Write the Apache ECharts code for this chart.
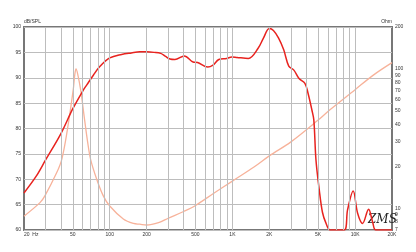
<!DOCTYPE html>
<html><head><meta charset="utf-8">
<script src="https://cdn.jsdelivr.net/npm/echarts@6/dist/echarts.min.js"></script>
<style>html,body{margin:0;padding:0;background:#fff}#c{width:416px;height:252px}</style>
</head><body><div id="c"></div>
<script>
// SPL curve (Hz, dB)
const splFreq = [20,25,30,40,50,61,65,73.5,83,100,125,150,176,200,230,260,285,310,340,405,478,520,630,695,775,895,990,1090,1350,1620,1790,2000,2160,2380,2620,2880,3170,3480,3900,4140,4450,4610,4800,5100,5420,5780,6270,8150,8690,9650,10490,11510,12890,13900,14780,20000];
const splValues = [67.3,70.5,73.8,79,83.9,87.6,88.6,90.5,92.2,93.9,94.6,94.9,95.1,95.1,95.0,94.8,94.2,93.7,93.6,94.3,93.1,93.0,92.1,92.5,93.6,93.8,94.1,94.0,93.8,95.8,97.8,99.7,99.3,97.8,95.5,92.3,91.5,89.9,88.9,86.9,83.6,81.7,73.8,68,63.5,61.4,60,60,64,67.7,63.3,61.3,64.1,61.6,60,60];
// Impedance curve (Hz, Ohm)
const impFreq = [20,27,29.6,36.9,40.6,45,50.4,51.8,53.1,54.8,57.9,62,66,69.9,78.3,88.6,100,129,156,176,200,250,300,400,500,700,1000,1500,2000,3000,5000,6240,10000,14000,20000];
const impValues = [8.8,11.0,12.3,18.0,22.4,36,71,90,100,92,71,45,30,22.4,16.2,12.3,10.4,8.4,7.8,7.7,7.6,7.9,8.5,9.5,10.5,12.8,15.7,19.8,23.8,30,43,51,71,90,111];
// Axis ticks
const freqTicks = [20,50,100,200,500,1000,2000,5000,10000,20000];
const freqLabels = ['20  Hz','50','100','200','500','1K','2K','5K','10K','20K'];
const gridFreqs = [30,40,50,60,70,80,90,100,200,300,400,500,600,700,800,900,1000,2000,3000,4000,5000,6000,7000,8000,9000,10000];
const ohmTicks = [200,100,90,80,70,60,50,40,30,20,10,9,8,7];

const FONT = '"Liberation Sans", Arial, sans-serif';
const zip = (a, b) => a.map((v, i) => [v, b[i]]);
const CLEAR = 'rgba(255,255,255,0)';

const vLines = gridFreqs.map(f => ({xAxis: f}));
const xLabelLines = freqTicks.map((f, i) => ({
  xAxis: f,
  lineStyle: {color: CLEAR, width: 0},
  label: {show: true, position: 'start', formatter: freqLabels[i], distance: 2,
    fontSize: 5, color: '#333', fontFamily: FONT, align: i === 0 ? 'left' : 'center'}
}));
const ohmLabelLines = ohmTicks.map(v => ({
  yAxis: v,
  lineStyle: {color: CLEAR, width: 0},
  label: {show: true, position: 'end', formatter: String(v), distance: 3,
    fontSize: 5, color: '#333', fontFamily: FONT, align: 'left'}
}));

const chart = echarts.init(document.getElementById('c'), null, {renderer: 'canvas'});
chart.setOption({
  animation: false,
  backgroundColor: '#fff',
  grid: {left: 24, top: 27, right: 24, bottom: 22, show: true, borderColor: '#777', borderWidth: 2, containLabel: false},
  xAxis: {type: 'log', logBase: 10, min: 20, max: 20000,
    axisLine: {show: false}, axisTick: {show: false}, axisLabel: {show: false}, splitLine: {show: false}},
  yAxis: [
    {type: 'value', min: 60, max: 100, interval: 5, name: 'dB/SPL', nameLocation: 'end', nameGap: 3,
      nameTextStyle: {fontSize: 5, color: '#333', align: 'left', fontFamily: FONT},
      axisLine: {show: false}, axisTick: {show: false},
      axisLabel: {fontSize: 5, color: '#333', margin: 3, fontFamily: FONT},
      splitLine: {lineStyle: {color: '#bdbdbd', width: 1}}},
    {type: 'log', logBase: 10, min: 7, max: 200, position: 'right', name: 'Ohm', nameLocation: 'end', nameGap: 3,
      nameTextStyle: {fontSize: 5, color: '#333', align: 'right', fontFamily: FONT},
      axisLine: {show: false}, axisTick: {show: false}, axisLabel: {show: false}, splitLine: {show: false}}
  ],
  series: [
    {type: 'line', name: 'grid', data: [], yAxisIndex: 0, silent: true,
      markLine: {silent: true, symbol: ['none','none'], label: {show: false},
        lineStyle: {color: '#bdbdbd', width: 1, type: 'solid'}, data: vLines.concat(xLabelLines)}},
    {type: 'line', name: 'Impedance', yAxisIndex: 1, data: zip(impFreq, impValues), smooth: 0.35,
      showSymbol: false, lineStyle: {color: '#f7b29a', width: 1.3}, z: 3,
      markLine: {silent: true, symbol: ['none','none'], data: ohmLabelLines}},
    {type: 'line', name: 'SPL', yAxisIndex: 0, data: zip(splFreq, splValues), smooth: 0.35,
      showSymbol: false, lineStyle: {color: '#e8231f', width: 1.5}, z: 4}
  ],
  graphic: [
    {type: 'text', left: 368, top: 214, style: {text: 'ZMS', font: 'italic 12px "DejaVu Serif", serif', fill: '#222'}}
  ]
});
</script></body></html>
